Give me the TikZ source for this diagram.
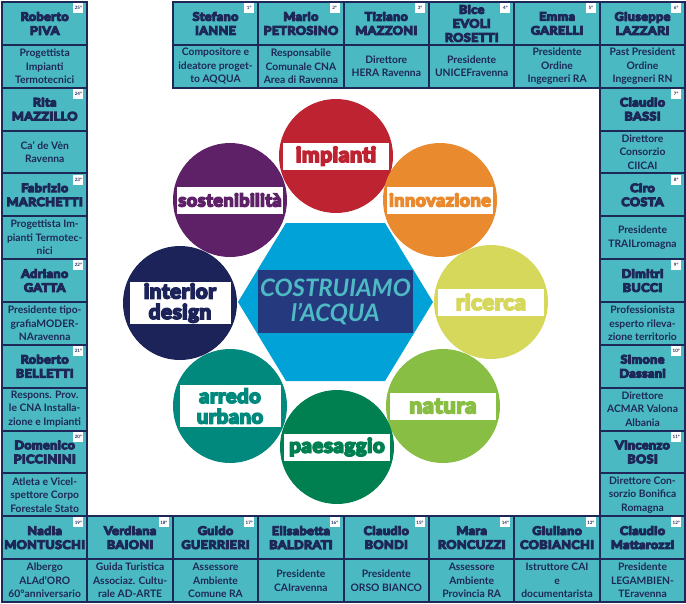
\documentclass[tikz,border=0pt]{standalone}
\usepackage{fontspec}
\setmainfont{Lato}
\newfontfamily\heavyfont{Lato}[FakeStretch=1.08,FakeBold=10,LetterSpace=4]
\newfontfamily\labelfont{Lato}[FakeStretch=1.03,FakeBold=9,LetterSpace=3]
\definecolor{boxfill}{HTML}{4BB9C1}
\definecolor{navy}{HTML}{1E2858}
\definecolor{hexblue}{HTML}{00A2D8}
\definecolor{innerblue}{HTML}{25397F}
\definecolor{coretext}{HTML}{4DBAC4}
\definecolor{cred}{HTML}{BD2330}
\definecolor{cpurple}{HTML}{5E2168}
\definecolor{corange}{HTML}{EA8A2E}
\definecolor{cyellow}{HTML}{D6D85C}
\definecolor{cgreen}{HTML}{87BE43}
\definecolor{cdkgreen}{HTML}{008051}
\definecolor{cteal}{HTML}{00897C}
\definecolor{cnavy}{HTML}{1B2359}
\tikzset{
 namecell/.style={draw=navy, fill=boxfill, line width=2pt, minimum width=85.4pt,
   minimum height=42.85pt, inner sep=0pt, outer sep=0pt, align=center, text=navy,
   font=\heavyfont\bfseries\fontsize{11.6}{14}\selectfont},
 desccell/.style={draw=navy, fill=boxfill, line width=2pt, minimum width=85.4pt,
   minimum height=42.85pt, inner sep=0pt, outer sep=0pt, align=center, text=navy,
   font=\bfseries\fontsize{10.3}{13.5}\selectfont},
 numtag/.style={fill=white, minimum size=10pt, inner sep=0pt, outer sep=0pt,
   text=navy, font=\bfseries\fontsize{4.5}{5}\selectfont},
 circ/.style={circle, minimum size=114pt, inner sep=0pt, outer sep=0pt},
 bar/.style={fill=white, inner sep=0pt, outer sep=0pt, minimum height=27pt,
   minimum width=106pt, align=center},
 bartwo/.style={bar, minimum height=42pt, minimum width=101pt},
 lf/.style={font=\labelfont\bfseries\fontsize{#1}{20.5}\selectfont},
}
\newcommand{\personbox}[5]{%
  \pgfmathsetmacro{\pbxl}{2+85.4*#1}%
  \pgfmathsetmacro{\pbyt}{2+85.7*#2}%
  \node[namecell, anchor=north west] (n#3) at (\pbxl,-\pbyt) {#4};
  \node[desccell, anchor=north west] (d#3) at (n#3.south west) {#5};
  \node[numtag, anchor=north east] (t#3) at ([xshift=-4pt,yshift=-1.2pt]n#3.north east) {#3°};
}
\begin{document}
\begin{tikzpicture}[x=1pt,y=1pt]
\useasboundingbox (0,0) rectangle (686,-603);
\fill[white] (0,0) rectangle (686,-603);
% person boxes
\personbox{0}{0}{25}{Roberto\\PIVA}{Progettista\\Impianti\\Termotecnici}
\personbox{2}{0}{1}{Stefano\\IANNE}{Compositore e\\ideatore proget-\\to AQQUA}
\personbox{3}{0}{2}{Mario\\PETROSINO}{Responsabile\\Comunale CNA\\Area di Ravenna}
\personbox{4}{0}{3}{Tiziano\\MAZZONI}{Direttore\\HERA Ravenna}
\personbox{5}{0}{4}{Bice\\EVOLI\\ROSETTI}{Presidente\\UNICEFravenna}
\personbox{6}{0}{5}{Emma\\GARELLI}{Presidente\\Ordine\\Ingegneri RA}
\personbox{7}{0}{6}{Giuseppe\\LAZZARI}{Past President\\Ordine\\Ingegneri RN}
\personbox{7}{1}{7}{Claudio\\BASSI}{Direttore\\Consorzio\\CIICAI}
\personbox{7}{2}{8}{Ciro\\COSTA}{Presidente\\TRAILromagna}
\personbox{7}{3}{9}{Dimitri\\BUCCI}{Professionista\\esperto rileva-\\zione territorio}
\personbox{7}{4}{10}{Simone\\Dassani}{Direttore\\ACMAR Valona\\Albania}
\personbox{7}{5}{11}{Vincenzo\\BOSI}{Direttore Con-\\sorzio Bonifica\\Romagna}
\personbox{7}{6}{12}{Claudio\\Mattarozzi}{Presidente\\LEGAMBIEN-\\TEravenna}
\personbox{6}{6}{13}{Giuliano\\COBIANCHI}{Istruttore CAI\\e\\documentarista}
\personbox{5}{6}{14}{Mara\\RONCUZZI}{Assessore\\Ambiente\\Provincia RA}
\personbox{4}{6}{15}{Claudio\\BONDI}{Presidente\\ORSO BIANCO}
\personbox{3}{6}{16}{Elisabetta\\BALDRATI}{Presidente\\CAIravenna}
\personbox{2}{6}{17}{Guido\\GUERRIERI}{Assessore\\Ambiente\\Comune RA}
\personbox{1}{6}{18}{Verdiana\\BAIONI}{Guida Turistica\\Associaz. Cultu-\\rale AD-ARTE}
\personbox{0}{6}{19}{Nadia\\MONTUSCHI}{Albergo\\ALAd’ORO\\60°anniversario}
\personbox{0}{5}{20}{Domenico\\PICCININI}{Atleta e Vicel-\\spettore Corpo\\Forestale Stato}
\personbox{0}{4}{21}{Roberto\\BELLETTI}{Respons. Prov.\\le CNA Installa-\\zione e Impianti}
\personbox{0}{3}{22}{Adriano\\GATTA}{Presidente tipo-\\grafiaMODER-\\NAravenna}
\personbox{0}{2}{23}{Fabrizio\\MARCHETTI}{Progettista Im-\\pianti Termotec-\\nici}
\personbox{0}{1}{24}{Rita\\MAZZILLO}{Ca’ de Vèn\\Ravenna}
% central hexagon
\fill[hexblue] (286,-223) -- (385,-223) -- (433,-302) -- (385,-381) -- (286,-381) -- (238,-302) -- cycle;
\node[fill=innerblue, minimum width=155pt, minimum height=63pt, inner sep=0pt, align=center,
  text=coretext, font=\bfseries\itshape\fontsize{24}{25}\selectfont] (core) at (335.5,-301.5) {COSTRUIAMO\\l’ACQUA};
% circles
\node[circ, fill=cred] (c1) at (336,-156) {};
\node[bar, lf=20.5, text=cred] (l1) at (c1.center) {impianti};
\node[circ, fill=corange] (c2) at (440,-200) {};
\node[bar, lf=17.5, text=corange] (l2) at (c2.center) {innovazione};
\node[circ, fill=cyellow] (c3) at (491,-302) {};
\node[bar, lf=21.5, text=cyellow] (l3) at (c3.center) {ricerca};
\node[circ, fill=cgreen] (c4) at (443,-406) {};
\node[bar, lf=21.5, text=cgreen] (l4) at (c4.center) {natura};
\node[circ, fill=cdkgreen] (c5) at (337,-447) {};
\node[bar, lf=19.8, text=cdkgreen] (l5) at (c5.center) {paesaggio};
\node[circ, fill=cteal] (c6) at (230,-406) {};
\node[bartwo, lf=19.5, text=cteal] (l6) at (c6.center) {arredo\\urbano};
\node[circ, fill=cnavy] (c7) at (180,-303) {};
\node[bartwo, lf=20, text=cnavy] (l7) at (c7.center) {interior\\design};
\node[circ, fill=cpurple] (c8) at (230,-200) {};
\node[bar, lf=17.5, text=cpurple] (l8) at (c8.center) {sostenibilità};
\end{tikzpicture}
\end{document}
